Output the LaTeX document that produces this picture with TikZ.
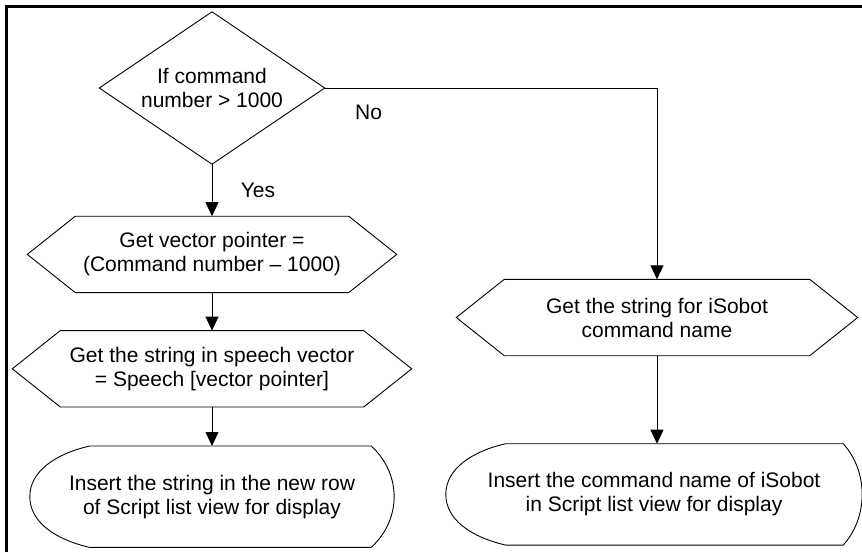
\documentclass[tikz,border=0pt]{standalone}
\usepackage{fontspec}
\setmainfont{Liberation Sans}
\usetikzlibrary{arrows.meta, positioning, calc}

\begin{document}
\begin{tikzpicture}[
    x=1pt, y=-1pt,
    txt/.style={align=center, inner sep=0pt, font=\fontsize{21pt}{24pt}\selectfont},
    box/.style={txt, minimum width=#1, minimum height=76pt},
    screen/.style={txt, minimum width=#1, minimum height=101pt},
    outline/.style={line width=0.9pt},
    arrow/.style={-{Triangle[width=13pt,length=14pt]}, line width=0.9pt}
]
\useasboundingbox (0,0) rectangle (862,552);

% Frame
\draw[line width=2.5pt] (6.3,552) -- (6.3,6.3) -- (862,6.3);

% Nodes
\node[txt, minimum width=225pt, minimum height=152pt] (dec) at (212,88) {If command\\number > 1000};
\node[box=273pt, below=52pt of dec] (ptr) {Get vector pointer =\\(Command number – 1000)};
\node[box=303pt, below=38pt of ptr] (spch) {Get the string in speech vector\\= Speech [vector pointer]};
\node[screen=364pt, below=39pt of spch] (show1) {Insert the string in the new row\\of Script list view for display};
\node[box=305pt] (name) at (657,317.5) {Get the string for iSobot\\command name};
\node[screen=416pt, below=88pt of name, xshift=-3pt] (show2) {Insert the command name of iSobot\\in Script list view for display};

% Outlines
\draw[outline] (dec.north) -- (dec.east) -- (dec.south) -- (dec.west) -- cycle;
\foreach \n in {ptr, spch, name}
  \draw[outline] (\n.north west) -- (\n.north east) -- ($(\n.east)+(48,0)$)
    -- (\n.south east) -- (\n.south west) -- ($(\n.west)-(48,0)$) -- cycle;
\foreach \n/\rd in {show1/23, show2/19}
  \draw[outline] ($(\n.north west)+(60,0)$) -- ($(\n.north east)-(\rd,0)$)
    .. controls +({1.33*\rd},28) and +({1.33*\rd},-28) .. ($(\n.south east)-(\rd,0)$)
    -- ($(\n.south west)+(60,0)$)
    .. controls +(-35,-8) and +(0,25) .. (\n.west)
    .. controls +(0,-25) and +(-35,8) .. ($(\n.north west)+(60,0)$) -- cycle;

% Arrows
\draw[arrow] (dec.south) -- node[txt, xshift=46pt] {Yes} (ptr.north);
\draw[arrow] (ptr.south) -- (spch.north);
\draw[arrow] (spch.south) -- (show1.north);
\draw[arrow] (dec.east) -| node[txt, pos=0.066, yshift=-24pt] {No} (name.north);
\draw[arrow] (name.south) -- (name.south |- show2.north);

\end{tikzpicture}
\end{document}
